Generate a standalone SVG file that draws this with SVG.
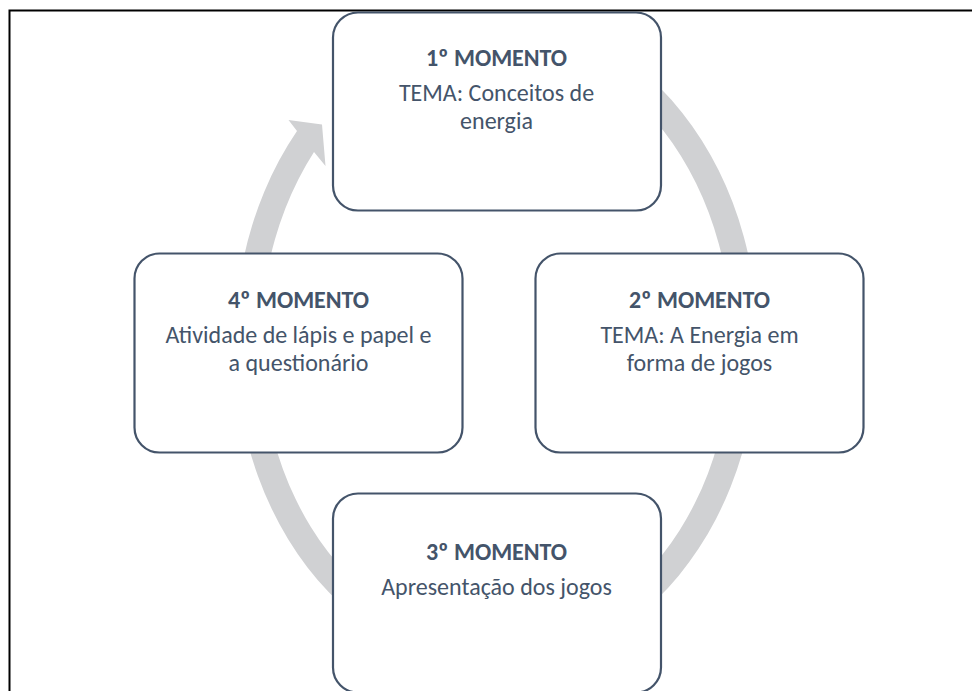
<svg xmlns="http://www.w3.org/2000/svg" width="972" height="691" viewBox="0 0 972 691">
  <style>
    .box { fill: #FFFFFF; stroke: #44546A; stroke-width: 2.2; }
    .t { font-family: Carlito, Lato, "Liberation Sans", sans-serif; font-size: 24px; fill: #44546A; text-anchor: middle; }
    .b { font-weight: bold; }
    .ring { fill: #D0D1D3; stroke: none; }
    .frame { fill: none; stroke: #000000; stroke-width: 2; }
  </style>
  <rect x="0" y="0" width="972" height="691" fill="#FFFFFF"/>
  <path class="frame" d="M 9.5 691 V 10.5 H 972"/>
  <g id="connectors">
    <path class="ring" d="M 496.5 16 A 261.5 326 0 1 1 297 131 L 288.5 120 L 322 124.5 L 325.5 166 L 314 152 A 235.5 300 0 1 0 496.5 42 Z"/>
  </g>
  <g id="node1">
    <rect class="box" x="333" y="12.5" width="328" height="198" rx="25" ry="25"/>
    <text class="t b" x="496.5" y="66">1º MOMENTO</text>
    <text class="t" x="496.5" y="101">TEMA: Conceitos de</text>
    <text class="t" x="496.5" y="129">energia</text>
  </g>
  <g id="node2">
    <rect class="box" x="535.5" y="253.5" width="328" height="199" rx="25" ry="25"/>
    <text class="t b" x="699.5" y="307.5">2º MOMENTO</text>
    <text class="t" x="699.5" y="342.5">TEMA: A Energia em</text>
    <text class="t" x="699.5" y="370.5">forma de jogos</text>
  </g>
  <g id="node3">
    <rect class="box" x="333" y="493.5" width="328" height="199" rx="25" ry="25"/>
    <text class="t b" x="496.5" y="560">3º MOMENTO</text>
    <text class="t" x="496.5" y="595">Apresentação dos jogos</text>
  </g>
  <g id="node4">
    <rect class="box" x="134.5" y="253.5" width="328" height="199" rx="25" ry="25"/>
    <text class="t b" x="298.5" y="307.5">4º MOMENTO</text>
    <text class="t" x="298.5" y="342.5">Atividade de lápis e papel e</text>
    <text class="t" x="298.5" y="370.5">a questionário</text>
  </g>
</svg>
